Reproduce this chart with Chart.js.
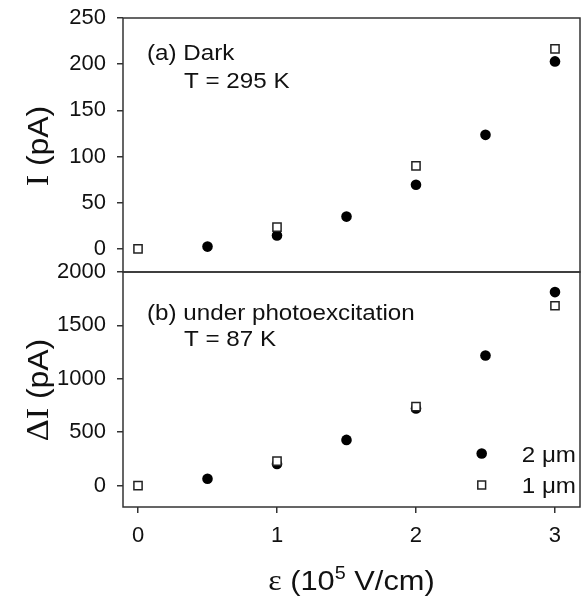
<!DOCTYPE html>
<html>
<head>
<meta charset="utf-8">
<script src="https://cdn.jsdelivr.net/npm/chart.js@4.4.0/dist/chart.umd.min.js"></script>
<style>
  html, body { margin: 0; padding: 0; background: #ffffff; }
  #wrap { position: relative; width: 581px; height: 600px; overflow: hidden; }
  canvas { position: absolute; left: 0; }
  #top { top: 0px; }
  #bot { top: 255px; }
</style>
</head>
<body>
<div id="wrap">
  <canvas id="top" width="581" height="280"></canvas>
  <canvas id="bot" width="581" height="345"></canvas>
</div>
<script>
// ---------------- data ----------------
const FIELD_2UM = [0.5, 1, 1.5, 2, 2.5, 3];          // ε (10^5 V/cm), 2 μm sample
const FIELD_1UM = [0, 1, 2, 3];                      // ε (10^5 V/cm), 1 μm sample
const DARK_2UM  = [2.5, 14.5, 35, 69.5, 123.5, 203]; // I (pA), dark, 295 K
const DARK_1UM  = [0, 23.5, 90, 216.5];              // I (pA), dark, 295 K
const PHOTO_2UM = [64, 202, 428, 722, 1218, 1812];   // ΔI (pA), photoexcited, 87 K
const PHOTO_1UM = [0, 230, 740, 1684];               // ΔI (pA), photoexcited, 87 K

const X_TICKS       = [0, 1, 2, 3];
const DARK_Y_TICKS  = [0, 50, 100, 150, 200, 250];
const PHOTO_Y_TICKS = [0, 500, 1000, 1500, 2000];

const SERIES_LABELS = ['2 μm', '1 μm'];
const PANEL_A_TEXT  = ['(a) Dark', 'T = 295 K'];
const PANEL_B_TEXT  = ['(b) under photoexcitation', 'T = 87 K'];
const X_TITLE       = ['ε', ' (10', '5', ' V/cm)'];
const Y_TITLE_A     = ['I', ' (pA)'];
const Y_TITLE_B     = ['ΔI', ' (pA)'];

// ---------------- helpers ----------------
const SANS  = "'Liberation Sans', Arial, Helvetica, sans-serif";
const SERIF = "'Liberation Serif', 'Times New Roman', serif";
const INK   = '#111111';
const AXIS  = '#333333';
const STRETCH = 1.1;   // the reference lettering is slightly wide
Chart.defaults.font.family = SANS;
Chart.defaults.color = INK;

const pts = (xs, ys) => xs.map((x, i) => ({ x: x, y: ys[i] }));

function datasets(y2, y1) {
  return [
    { label: SERIES_LABELS[0], data: pts(FIELD_2UM, y2), showLine: false,
      pointStyle: 'circle', pointRadius: 5.3, pointHoverRadius: 5.3,
      pointBackgroundColor: '#000', pointBorderColor: '#000', pointBorderWidth: 0, order: 1 },
    { label: SERIES_LABELS[1], data: pts(FIELD_1UM, y1), showLine: false,
      pointStyle: 'rect', pointRadius: 5.8, pointHoverRadius: 5.8,
      pointBackgroundColor: '#fff', pointBorderColor: '#222', pointBorderWidth: 1.5, order: 0 }
  ];
}

// frame around the plotting area
const framePlugin = {
  id: 'frame',
  beforeDatasetsDraw(chart) {
    const a = chart.chartArea, ctx = chart.ctx;
    ctx.save();
    ctx.strokeStyle = AXIS;
    ctx.lineWidth = 1.5;
    ctx.strokeRect(a.left, a.top, a.right - a.left, a.bottom - a.top);
    ctx.restore();
  }
};

// draw a run of {text, font, dy} pieces starting at x, baseline y (in current transform)
function drawRun(ctx, pieces, x, y) {
  let cx = x;
  pieces.forEach(p => {
    ctx.font = p.font;
    ctx.fillText(p.text, cx, y + (p.dy || 0));
    cx += ctx.measureText(p.text).width;
  });
  return cx - x;
}
function runWidth(ctx, pieces) {
  let w = 0;
  pieces.forEach(p => { ctx.font = p.font; w += ctx.measureText(p.text).width; });
  return w;
}
// stretched single text, left edge x, baseline y
function wideText(ctx, text, font, x, y) {
  ctx.save();
  ctx.font = font;
  ctx.translate(x, y);
  ctx.scale(STRETCH, 1);
  ctx.fillText(text, 0, 0);
  ctx.restore();
}

// text / title / legend plugin; coordinates are page coordinates
const textPlugin = {
  id: 'texts',
  afterDraw(chart, args, opts) {
    const ctx = chart.ctx, off = opts.offsetY;
    ctx.save();
    ctx.fillStyle = INK;
    ctx.textAlign = 'left';
    ctx.textBaseline = 'alphabetic';
    // panel annotation
    wideText(ctx, opts.lines[0], '22px ' + SANS, 147, opts.lineY[0] - off);
    wideText(ctx, opts.lines[1], '22px ' + SANS, 184, opts.lineY[1] - off);
    // y axis title (rotated)
    const yt = [
      { text: opts.yTitle[0], font: '31px ' + SERIF },
      { text: opts.yTitle[1], font: '29px ' + SANS }
    ];
    const w = runWidth(ctx, yt) * STRETCH;
    ctx.save();
    ctx.translate(48, opts.yTitleCenter - off);
    ctx.rotate(-Math.PI / 2);
    ctx.scale(STRETCH, 1);
    drawRun(ctx, yt, -w / 2 / STRETCH, 0);
    ctx.restore();
    // x axis title + legend only on lower panel
    if (opts.xTitle) {
      const a = chart.chartArea;
      const xt = [
        { text: X_TITLE[0], font: '29px ' + SERIF },
        { text: X_TITLE[1], font: '28px ' + SANS },
        { text: X_TITLE[2], font: '18px ' + SANS, dy: -11 },
        { text: X_TITLE[3], font: '28px ' + SANS }
      ];
      const xw = runWidth(ctx, xt) * STRETCH;
      ctx.save();
      ctx.translate((a.left + a.right) / 2 - xw / 2, 590 - off);
      ctx.scale(STRETCH, 1);
      drawRun(ctx, xt, 0, 0);
      ctx.restore();
      // legend (inside the lower panel)
      const ds = chart.data.datasets;
      const rows = [453.5, 485];
      ds.forEach((d, i) => {
        const cy = rows[i] - off;
        ctx.fillStyle = d.pointBackgroundColor;
        ctx.strokeStyle = d.pointBorderColor;
        ctx.lineWidth = d.pointBorderWidth;
        ctx.beginPath();
        if (d.pointStyle === 'circle') {
          ctx.arc(481.7, cy, 5.3, 0, Math.PI * 2);
          ctx.fill();
        } else {
          ctx.rect(481.7 - 3.9, cy - 3.9, 7.8, 7.8);
          ctx.fill(); ctx.stroke();
        }
        ctx.fillStyle = INK;
        wideText(ctx, d.label, '22px ' + SANS, 521.7, cy + 8);
      });
    }
    ctx.restore();
  }
};

function yScale(min, max, ticks) {
  return {
    type: 'linear', position: 'left', min: min, max: max,
    afterBuildTicks: s => { s.ticks = ticks.map(v => ({ value: v })); },
    afterFit: s => { s.width = 123; s.paddingTop = 0; s.paddingBottom = 0; },
    grid: { drawOnChartArea: false, drawTicks: true, tickLength: 6, color: AXIS, lineWidth: 1.5 },
    border: { display: false },
    ticks: { font: { size: 22, family: SANS }, color: INK, padding: 11, callback: v => String(v) }
  };
}

// ---------------- upper panel: dark current ----------------
new Chart(document.getElementById('top'), {
  type: 'scatter',
  data: { datasets: datasets(DARK_2UM, DARK_1UM) },
  options: {
    responsive: false, animation: false, devicePixelRatio: 1,
    layout: { autoPadding: false, padding: { top: 18, bottom: 8, left: 0, right: 1 } },
    plugins: {
      legend: { display: false }, tooltip: { enabled: false },
      texts: { offsetY: 0, lines: PANEL_A_TEXT, lineY: [60, 88], yTitle: Y_TITLE_A, yTitleCenter: 146, xTitle: false }
    },
    scales: {
      x: { type: 'linear', min: -0.108, max: 3.18, display: false },
      y: yScale(-25, 250, DARK_Y_TICKS)
    }
  },
  plugins: [framePlugin, textPlugin]
});

// ---------------- lower panel: photocurrent ----------------
new Chart(document.getElementById('bot'), {
  type: 'scatter',
  data: { datasets: datasets(PHOTO_2UM, PHOTO_1UM) },
  options: {
    responsive: false, animation: false, devicePixelRatio: 1,
    layout: { autoPadding: false, padding: { top: 17, bottom: 0, left: 0, right: 1 } },
    plugins: {
      legend: { display: false }, tooltip: { enabled: false },
      texts: { offsetY: 255, lines: PANEL_B_TEXT, lineY: [320, 346], yTitle: Y_TITLE_B, yTitleCenter: 390, xTitle: true }
    },
    scales: {
      x: {
        type: 'linear', position: 'bottom', min: -0.108, max: 3.18,
        afterBuildTicks: s => { s.ticks = X_TICKS.map(v => ({ value: v })); },
        afterFit: s => { s.height = 93; s.paddingLeft = 0; s.paddingRight = 0; },
        grid: { drawOnChartArea: false, drawTicks: true, tickLength: 6, color: AXIS, lineWidth: 1.5 },
        border: { display: false },
        ticks: { font: { size: 22, family: SANS }, color: INK, padding: 10, maxRotation: 0, callback: v => String(v) }
      },
      y: yScale(-200, 2000, PHOTO_Y_TICKS)
    }
  },
  plugins: [framePlugin, textPlugin]
});
</script>
</body>
</html>
